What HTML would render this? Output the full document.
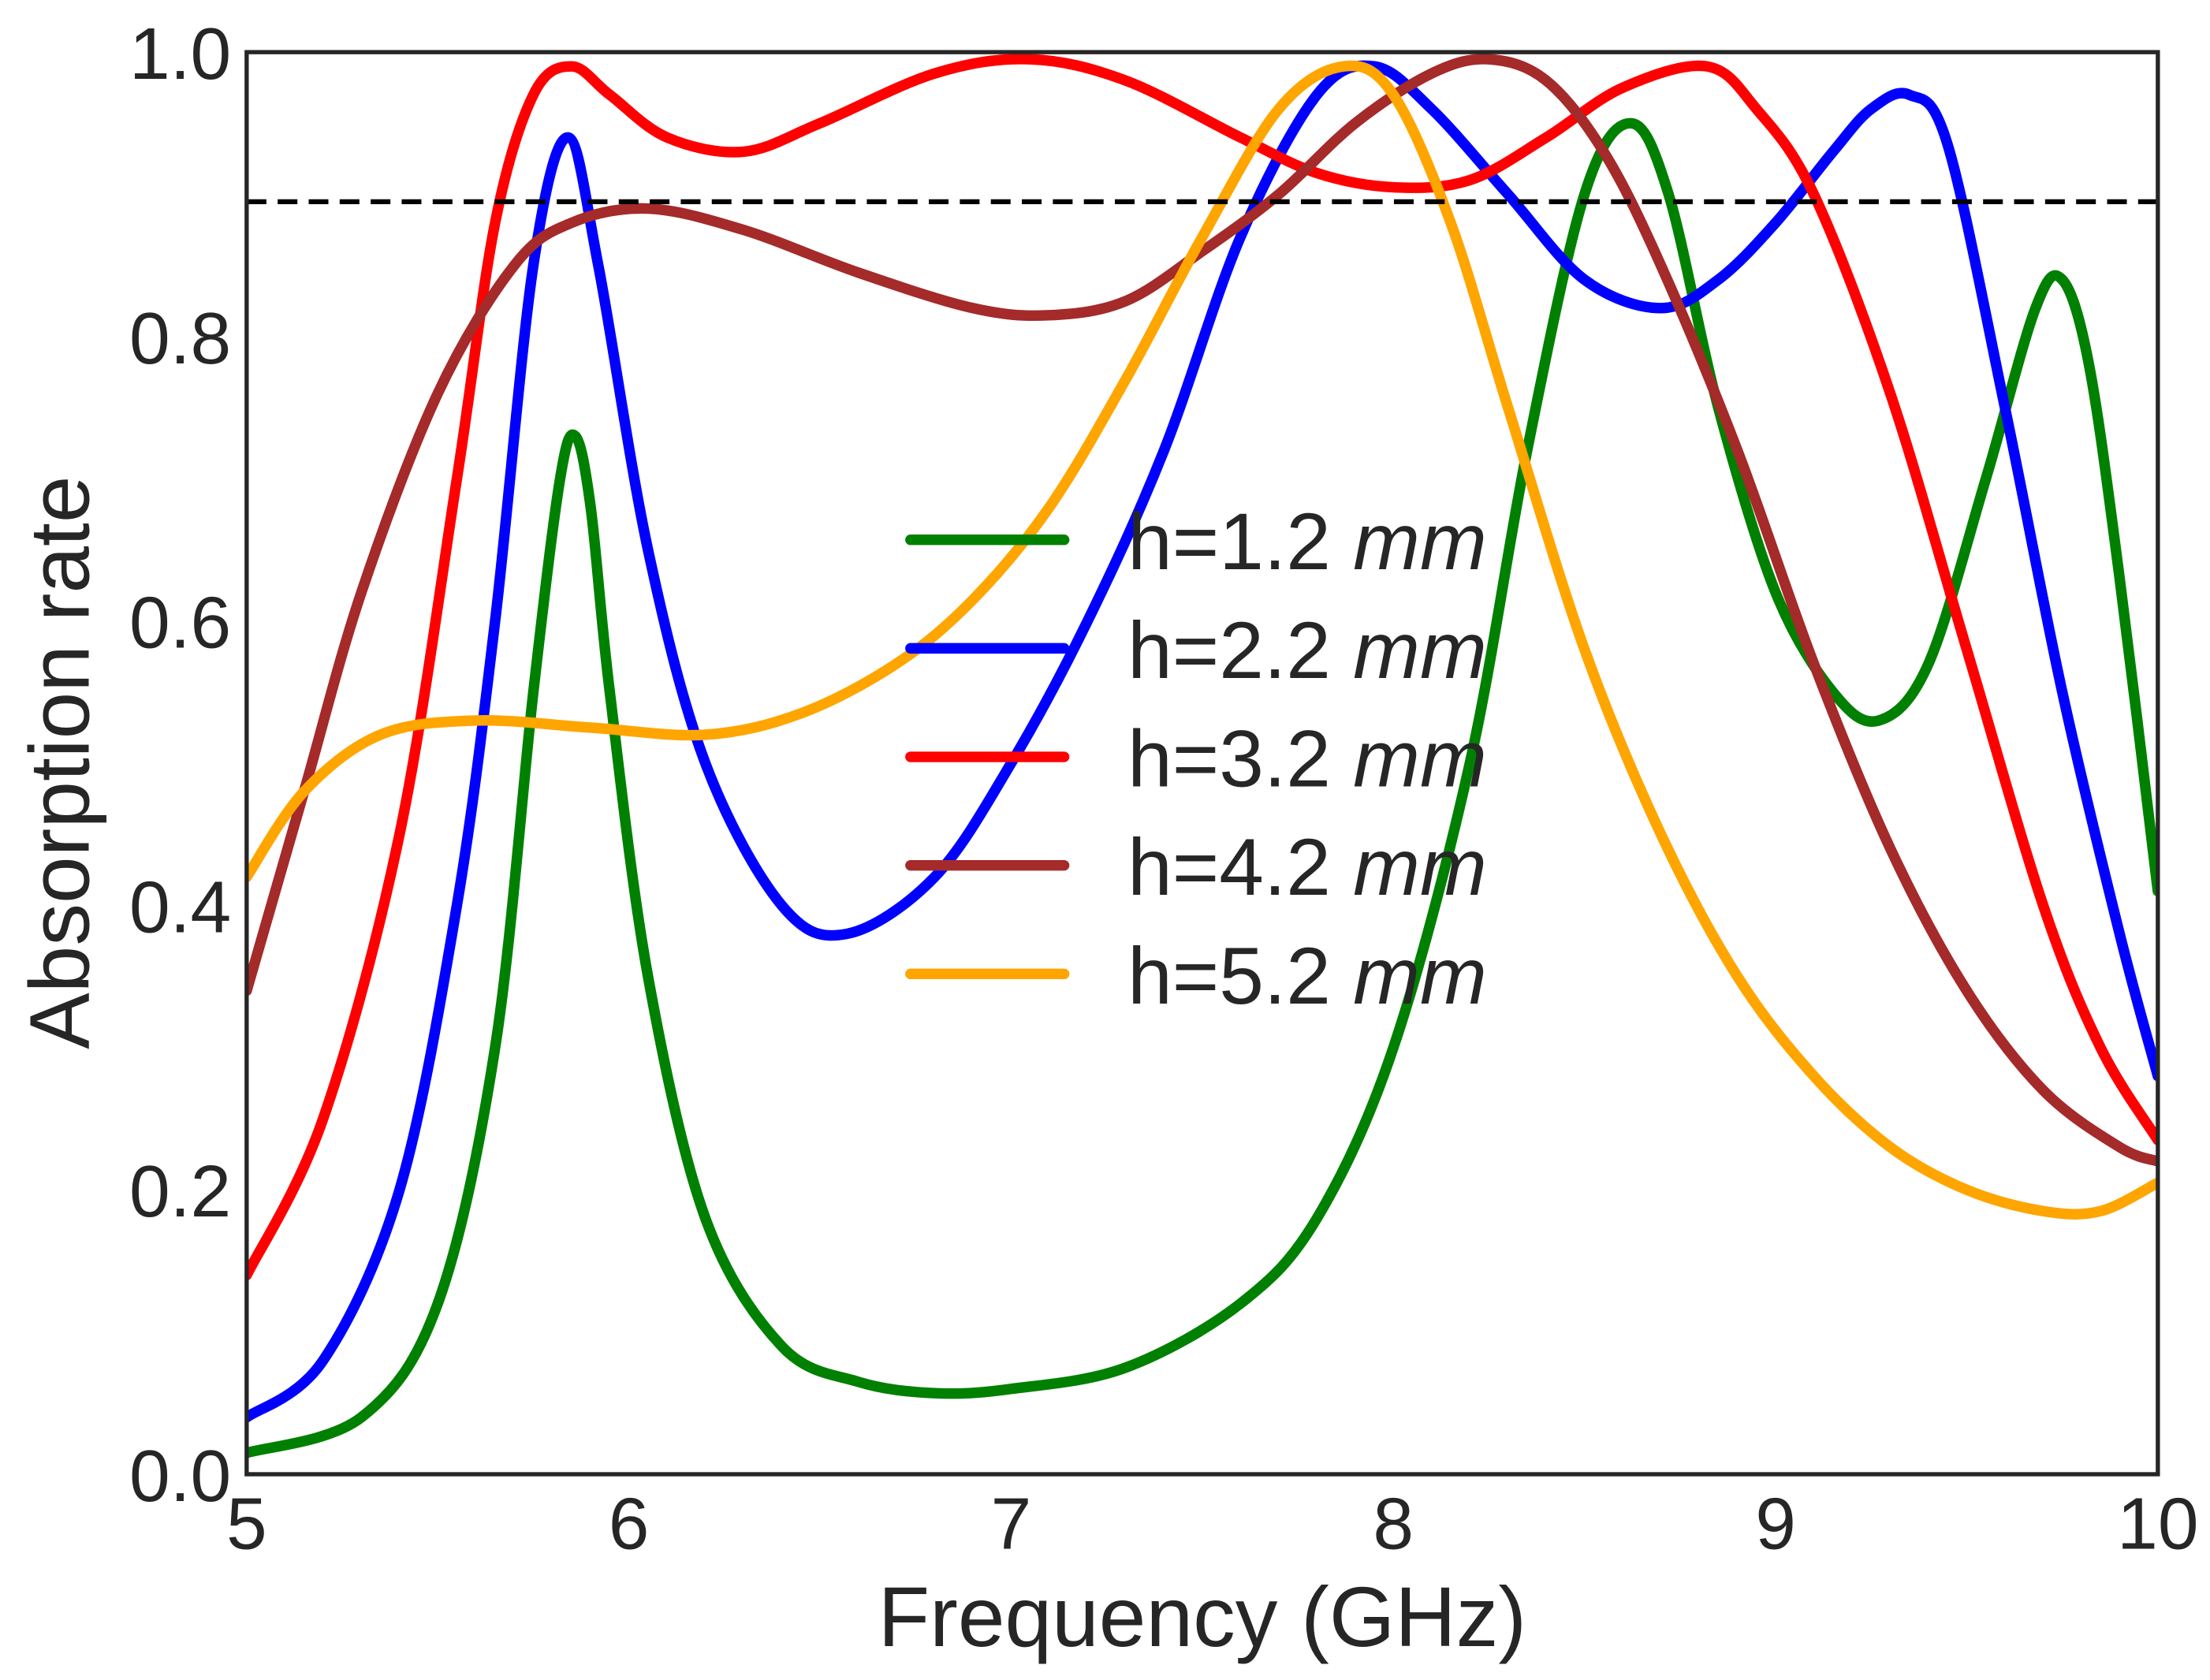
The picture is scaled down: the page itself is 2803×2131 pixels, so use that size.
<!DOCTYPE html>
<html><head><meta charset="utf-8"><style>
html,body{margin:0;padding:0;background:#fff;}
svg{display:block;}
text{font-family:"Liberation Sans",sans-serif;fill:#262626;}
</style></head><body>
<svg id="chart" width="2803" height="2131" viewBox="0 0 1568 1192" preserveAspectRatio="none">
<g id="ticks"></g>
<g id="series"></g>
<line x1="175" y1="143.1" x2="1531" y2="143.1" stroke="#000" stroke-width="3.5" stroke-dasharray="14,8"/>
<rect x="175" y="37" width="1356" height="1009" fill="none" stroke="#262626" stroke-width="3"/>
<g id="legend"></g>
<text x="853" y="1168" font-size="60" text-anchor="middle">Frequency (GHz)</text>
<text transform="translate(63,541) rotate(-90)" font-size="60" text-anchor="middle">Absorption rate</text>
</svg>
<script>
const xTicks=[5,6,7,8,9,10];
const yTicks=[0.0,0.2,0.4,0.6,0.8,1.0];
const seriesNames=["h=1.2","h=2.2","h=3.2","h=4.2","h=5.2"];
const seriesColors=["#008000","#0000ff","#ff0000","#a52a2a","#ffa500"];
const freqGreen=[5,5.3,5.5,5.65,5.75,5.82,5.86,5.9,5.95,6.05,6.2,6.4,6.6,6.8,7.0,7.3,7.6,7.8,8.0,8.2,8.35,8.5,8.62,8.72,8.85,9.0,9.15,9.27,9.4,9.55,9.68,9.75,9.82,9.9,10];
const absGreen=[0.015,0.04,0.12,0.3,0.55,0.70,0.73,0.68,0.55,0.35,0.18,0.09,0.065,0.057,0.06,0.075,0.12,0.18,0.3,0.5,0.72,0.9,0.95,0.9,0.75,0.62,0.55,0.53,0.57,0.7,0.82,0.84,0.78,0.63,0.41];
const freqBlue=[5,5.2,5.4,5.55,5.65,5.75,5.84,5.92,6.05,6.2,6.4,6.57,6.8,7.0,7.2,7.4,7.6,7.8,7.95,8.1,8.3,8.5,8.7,8.85,9.0,9.15,9.25,9.35,9.45,9.6,9.75,9.9,10];
const absBlue=[0.04,0.08,0.2,0.4,0.6,0.85,0.94,0.85,0.65,0.5,0.4,0.38,0.42,0.5,0.6,0.72,0.87,0.97,0.99,0.96,0.9,0.84,0.82,0.84,0.88,0.93,0.96,0.97,0.935,0.75,0.55,0.38,0.28];
const freqRed=[5,5.2,5.4,5.55,5.65,5.75,5.85,5.95,6.1,6.3,6.5,6.8,7.05,7.3,7.6,7.8,8.0,8.2,8.4,8.6,8.82,8.95,9.1,9.3,9.5,9.7,9.85,10];
const absRed=[0.14,0.25,0.45,0.7,0.88,0.97,0.99,0.97,0.94,0.93,0.95,0.985,0.995,0.98,0.94,0.915,0.905,0.91,0.94,0.975,0.99,0.96,0.9,0.76,0.58,0.4,0.3,0.235];
const freqBrown=[5,5.15,5.3,5.5,5.7,5.85,6.05,6.3,6.6,6.9,7.1,7.3,7.5,7.7,7.9,8.1,8.25,8.4,8.55,8.7,8.9,9.1,9.3,9.5,9.7,9.9,10];
const absBrown=[0.34,0.48,0.62,0.76,0.85,0.88,0.89,0.875,0.845,0.82,0.815,0.825,0.86,0.9,0.95,0.985,0.995,0.98,0.93,0.85,0.72,0.57,0.44,0.34,0.27,0.23,0.22];
const freqOrange=[5,5.15,5.35,5.6,5.9,6.2,6.45,6.7,6.9,7.1,7.3,7.5,7.7,7.87,8.0,8.15,8.3,8.5,8.7,8.9,9.1,9.3,9.5,9.7,9.85,10];
const absOrange=[0.42,0.48,0.52,0.53,0.525,0.52,0.535,0.57,0.615,0.68,0.77,0.87,0.96,0.99,0.97,0.88,0.75,0.58,0.45,0.35,0.28,0.23,0.2,0.185,0.185,0.205];

const NS="http://www.w3.org/2000/svg";
const X=f=>175+(f-5)*(1356/5);
const Y=v=>1046-v*1009;
const tg=document.getElementById('ticks');
xTicks.forEach(t=>{
  const el=document.createElementNS(NS,'text');
  el.setAttribute('x',X(t));el.setAttribute('y',1099);
  el.setAttribute('font-size',52);el.setAttribute('text-anchor','middle');
  el.textContent=String(t);
  
  
  tg.appendChild(el);
});
yTicks.forEach(t=>{
  const el=document.createElementNS(NS,'text');
  el.setAttribute('x',164);el.setAttribute('y',Y(t)+19);
  el.setAttribute('font-size',52);el.setAttribute('text-anchor','end');
  el.textContent=t.toFixed(1);
  
  
  tg.appendChild(el);
});
function pathFor(xs,ys){
  const p=xs.map((x,i)=>[X(x),Y(ys[i])]);
  let d=`M${p[0][0]},${p[0][1]}`;
  for(let i=0;i<p.length-1;i++){
    const p0=p[Math.max(0,i-1)],p1=p[i],p2=p[i+1],p3=p[Math.min(p.length-1,i+2)];
    const c1=[p1[0]+(p2[0]-p0[0])/6,p1[1]+(p2[1]-p0[1])/6];
    const c2=[p2[0]-(p3[0]-p1[0])/6,p2[1]-(p3[1]-p1[1])/6];
    d+=` C${c1[0]},${c1[1]} ${c2[0]},${c2[1]} ${p2[0]},${p2[1]}`;
  }
  return d;
}
const sg=document.getElementById('series');
const all=[[freqGreen,absGreen],[freqBlue,absBlue],[freqRed,absRed],[freqBrown,absBrown],[freqOrange,absOrange]];
const defs=document.createElementNS(NS,'clipPath');defs.setAttribute('id','clip');
const cr=document.createElementNS(NS,'rect');cr.setAttribute('x',175);cr.setAttribute('y',37);cr.setAttribute('width',1356);cr.setAttribute('height',1009);
defs.appendChild(cr);document.getElementById('chart').appendChild(defs);
sg.setAttribute('clip-path','url(#clip)');
all.forEach((s,i)=>{
  const el=document.createElementNS(NS,'path');
  el.setAttribute('d',pathFor(s[0],s[1]));
  el.setAttribute('fill','none');el.setAttribute('stroke',seriesColors[i]);
  el.setAttribute('stroke-width',7.5);el.setAttribute('stroke-linecap','round');el.setAttribute('stroke-linejoin','round');
  
  
  sg.appendChild(el);
});
const lg=document.getElementById('legend');
seriesNames.forEach((n,i)=>{
  const y=383+i*77;
  const ln=document.createElementNS(NS,'line');
  ln.setAttribute('x1',646);ln.setAttribute('x2',755);ln.setAttribute('y1',y);ln.setAttribute('y2',y);
  ln.setAttribute('stroke',seriesColors[i]);ln.setAttribute('stroke-width',7.5);ln.setAttribute('stroke-linecap','round');
  
  
  lg.appendChild(ln);
  const tx=document.createElementNS(NS,'text');
  tx.setAttribute('x',800);tx.setAttribute('y',y+21);tx.setAttribute('font-size',57);
  tx.innerHTML=n+' <tspan font-style="italic">mm</tspan>';
  
  
  lg.appendChild(tx);
});
</script>
</body></html>
